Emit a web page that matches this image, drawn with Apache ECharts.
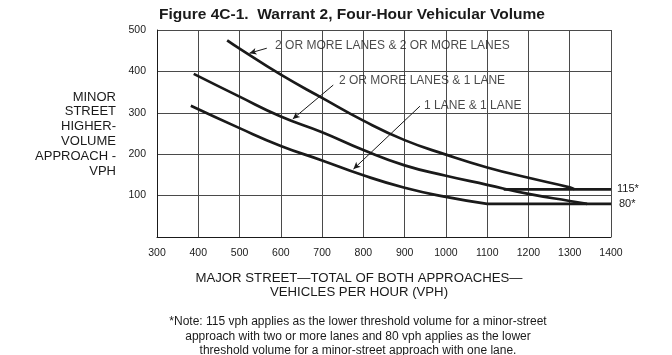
<!DOCTYPE html>
<html>
<head>
<meta charset="utf-8">
<script src="https://cdn.jsdelivr.net/npm/echarts@6/dist/echarts.min.js"></script>
<style>
html,body{margin:0;padding:0;background:#fff;}
#c{width:672px;height:355px;}
</style>
</head>
<body>
<div id="c"></div>
<script>
// ---- data ----
var xTicks = [300,400,500,600,700,800,900,1000,1100,1200,1300,1400];
var yTicks = [100,200,300,400,500];
var curve2plus2plus = [[470,475],[500,455],[600,392],[700,336],[800,281],[900,234],[1000,199],[1100,168],[1200,143],[1300,120],[1312,115]];
var curve2plus1 = [[389,394],[500,339],[600,291],[700,253],[800,210],[900,173],[1000,148],[1100,126],[1200,104],[1300,87],[1342,80]];
var curve1and1 = [[382,317],[500,263],[600,220],[700,185],[800,149],[900,119],[1000,97],[1100,80]];
var threshold115 = [[1140,115],[1400,115]];
var threshold80 = [[1100,80],[1400,80]];
var curveNames = ['2 OR MORE LANES & 2 OR MORE LANES','2 OR MORE LANES & 1 LANE','1 LANE & 1 LANE'];
var labelAnchors = [[586,461],[741,377],[947,318]];
var leaderFrom = [[566,456],[727,367],[937,316]];
var leaderTo = [[524,444],[629,285],[776,164]];
var thresholdLabels = ['115*','80*'];
var yTitleLines = ['MINOR','STREET','HIGHER-','VOLUME','APPROACH -','VPH'];
var xTitleLines = ['MAJOR STREET\u2014TOTAL OF BOTH APPROACHES\u2014','VEHICLES PER HOUR (VPH)'];
var noteLines = ['*Note: 115 vph applies as the lower threshold volume for a minor-street',
  'approach with two or more lanes and 80 vph applies as the lower',
  'threshold volume for a minor-street approach with one lane.'];

var FONT = '"Liberation Sans", Arial, Helvetica, sans-serif';
var INK = '#1a1a1a';

var chart = echarts.init(document.getElementById('c'), null, {renderer:'canvas'});

function curveSeries(name, data){
  return {
    name: name, type:'line', data:data, smooth:0.5,
    symbol:'none', lineStyle:{color:INK, width:2.7}, z:5, silent:true
  };
}

var leaderData = leaderFrom.map(function(f,i){
  return [{coord:f},{coord:leaderTo[i]}];
});

function textLines(lines, x, y0, lh, size, align){
  return lines.map(function(t,i){
    return {type:'text', x:x, y:y0+i*lh, silent:true,
      style:{text:t, align:align, verticalAlign:'middle', font:size+'px '+FONT, fill:INK}};
  });
}

var graphics = []
  .concat(textLines(yTitleLines, 116, 97, 14.8, 13, 'right'))
  .concat(textLines(xTitleLines, 359, 278.5, 14, 13.2, 'center'))
  .concat(textLines(noteLines, 358, 322, 14.2, 12, 'center'));

var option = {
  animation:false,
  backgroundColor:'#fff',
  textStyle:{fontFamily:FONT, color:INK},
  title:{
    text:'Figure 4C-1.  Warrant 2, Four-Hour Vehicular Volume',
    left:347, top:2, textAlign:'center',
    textStyle:{fontFamily:FONT, fontWeight:'bold', fontSize:15.5, color:INK}
  },
  grid:{left:157, right:61, top:30, bottom:118, containLabel:false},
  xAxis:{
    type:'value', min:300, max:1400, interval:100,
    axisLine:{show:true, lineStyle:{color:INK, width:1}},
    axisTick:{show:false},
    axisLabel:{color:INK, fontSize:10.5, fontFamily:FONT, margin:11,
      formatter:function(v){ return xTicks.indexOf(v)>=0 ? String(v) : ''; }},
    splitLine:{show:true, lineStyle:{color:'#4a4a4a', width:1}}
  },
  yAxis:{
    type:'value', min:0, max:500, interval:100,
    axisLine:{show:true, lineStyle:{color:INK, width:1}},
    axisTick:{show:false},
    axisLabel:{color:INK, fontSize:10.5, fontFamily:FONT, margin:11,
      formatter:function(v){ return yTicks.indexOf(v)>=0 ? String(v) : ''; }},
    splitLine:{show:true, lineStyle:{color:'#4a4a4a', width:1}}
  },
  series:[
    curveSeries(curveNames[0], curve2plus2plus),
    curveSeries(curveNames[1], curve2plus1),
    curveSeries(curveNames[2], curve1and1),
    {
      name:'115', type:'line', data:threshold115, symbol:'none',
      lineStyle:{color:INK, width:2.7}, z:5, silent:true,
      endLabel:{show:true, formatter:thresholdLabels[0], color:INK, fontSize:11, fontFamily:FONT, distance:6}
    },
    {
      name:'80', type:'line', data:threshold80, symbol:'none',
      lineStyle:{color:INK, width:2.7}, z:5, silent:true,
      endLabel:{show:true, formatter:thresholdLabels[1], color:INK, fontSize:11, fontFamily:FONT, distance:8}
    },
    {
      name:'labels', type:'scatter', symbolSize:0, silent:true, z:6,
      data: labelAnchors.map(function(p,i){ return {name:curveNames[i], value:p}; }),
      label:{show:true, position:'right', distance:0, formatter:'{b}', color:INK, fontSize:12, fontFamily:FONT},
      markLine:{
        silent:true, symbol:['none','arrow'], symbolSize:[5,7],
        label:{show:false},
        lineStyle:{color:INK, width:1, type:'solid'},
        data: leaderData
      }
    }
  ],
  graphic: graphics
};
chart.setOption(option);
</script>
</body>
</html>
